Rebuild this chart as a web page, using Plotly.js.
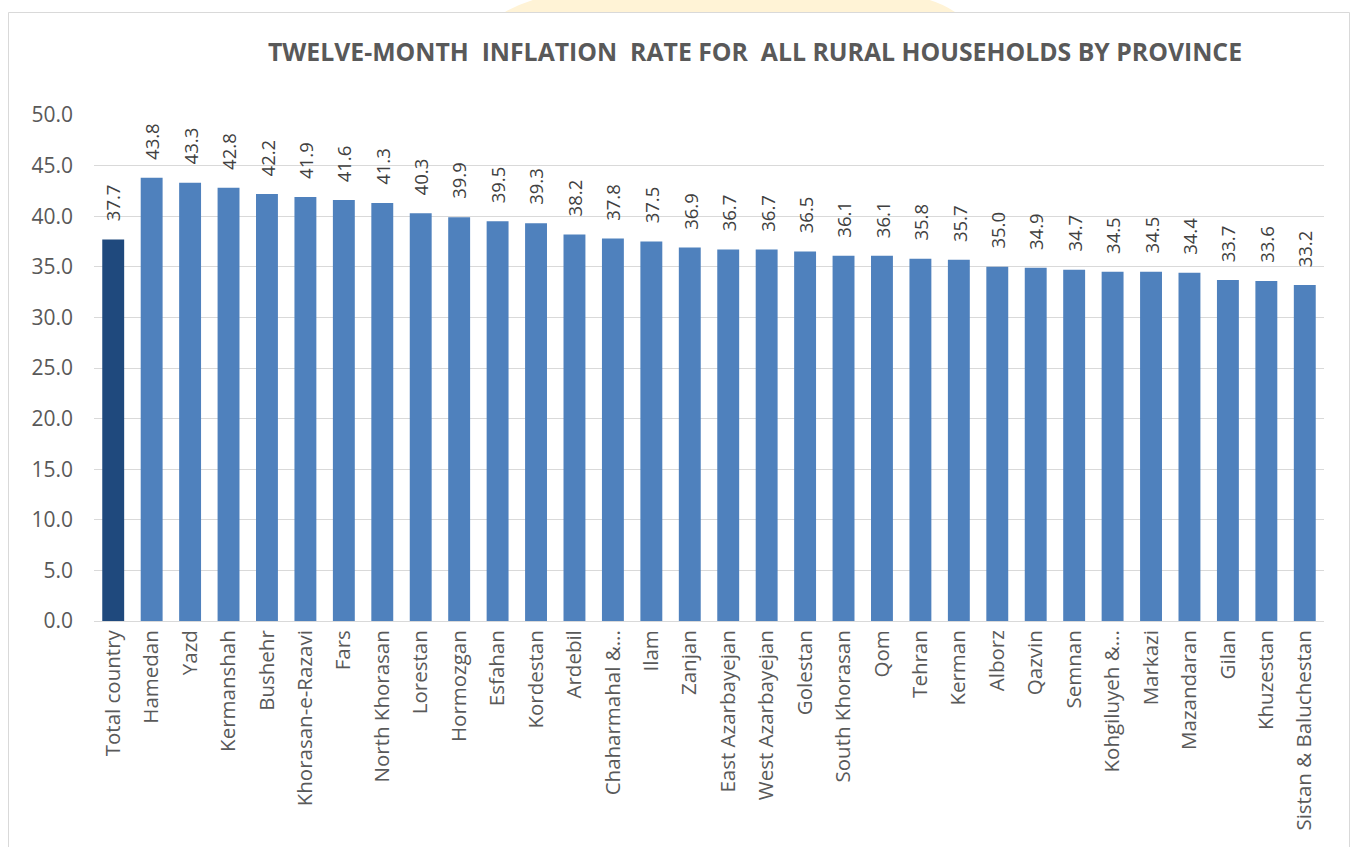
<!DOCTYPE html>
<html><head><meta charset="utf-8">
<script src="https://cdn.plot.ly/plotly-3.0.1.min.js"></script>
<style>
html,body{margin:0;padding:0;background:#fff;overflow:hidden;}
#chart{width:1356px;height:847px;}
</style></head>
<body>
<div id="chart"></div>
<script>
const provinces = ["Total country","Hamedan","Yazd","Kermanshah","Bushehr","Khorasan-e-Razavi","Fars","North Khorasan","Lorestan","Hormozgan","Esfahan","Kordestan","Ardebil","Chaharmahal &...","Ilam","Zanjan","East Azarbayejan","West Azarbayejan","Golestan","South Khorasan","Qom","Tehran","Kerman","Alborz","Qazvin","Semnan","Kohgiluyeh &...","Markazi","Mazandaran","Gilan","Khuzestan","Sistan & Baluchestan"];
const inflation = [37.7,43.8,43.3,42.8,42.2,41.9,41.6,41.3,40.3,39.9,39.5,39.3,38.2,37.8,37.5,36.9,36.7,36.7,36.5,36.1,36.1,35.8,35.7,35.0,34.9,34.7,34.5,34.5,34.4,33.7,33.6,33.2];
const yTicks = [0,5,10,15,20,25,30,35,40,45,50];

// pixel geometry helpers (layout only)
const W = 1356, H = 847, L = 94, R = 32, T = 115, B = 226;
const pw = W - L - R, ph = H - T - B;
const px = x => (x - L) / pw;
const py = y => (H - B - y) / ph;

const colors = provinces.map((p,i)=> i===0 ? '#1f497d' : '#4f81bd');
const trace = {
  type:'bar', x:provinces, y:inflation,
  marker:{color:colors, line:{width:0}},
  hoverinfo:'x+y'
};
const labels = provinces.map((p,i)=>({
  x:p, y:inflation[i], xref:'x', yref:'y',
  text:inflation[i].toFixed(1), textangle:-90, showarrow:false,
  xanchor:'center', yanchor:'bottom', yshift:16,
  font:{family:'Open Sans, sans-serif', size:18.5, color:'#404040'}
}));
// soft watermark blob above the frame (decorative)
const blob = `M ${px(505)} ${py(12)} Q ${px(530)} ${py(-2)} ${px(560)} ${py(-6)} L ${px(900)} ${py(-6)} Q ${px(935)} ${py(-2)} ${px(955)} ${py(12)} Z`;
const layout = {
  width:W, height:H,
  margin:{l:L,r:R,t:T,b:B},
  paper_bgcolor:'#fff', plot_bgcolor:'rgba(0,0,0,0)',
  bargap:0.43,
  showlegend:false,
  title:{text:'<b>TWELVE-MONTH  INFLATION  RATE FOR  ALL RURAL HOUSEHOLDS BY PROVINCE</b>',
    font:{family:'Open Sans, sans-serif', size:24.8, color:'#595959'},
    x:px(755), xref:'paper', xanchor:'center', y:1-52/H, yanchor:'middle'},
  xaxis:{type:'category', tickangle:-90, automargin:false,
    tickfont:{family:'Open Sans, sans-serif', size:20.5, color:'#595959'},
    showline:true, linecolor:'#d9d9d9', linewidth:1, ticks:'', showgrid:false},
  yaxis:{range:[0,50], tickvals:yTicks, ticktext:yTicks.map(v=>v.toFixed(1)),
    tickfont:{family:'Open Sans, sans-serif', size:21, color:'#595959'},
    showgrid:true, gridcolor:'#d9d9d9', gridwidth:1, zeroline:false,
    showline:false, ticks:'', ticklen:0, ticklabelstandoff:20, automargin:false},
  annotations:labels,
  shapes:[
    {type:'path', xref:'paper', yref:'paper', layer:'below', path:blob,
      fillcolor:'#fff3d6', line:{width:0}},
    {type:'rect', xref:'paper', yref:'paper', layer:'below',
      x0:px(8.5), x1:px(1349.5), y0:py(900), y1:py(12.5),
      fillcolor:'#ffffff', line:{color:'#d9d9d9', width:1}}
  ]
};
Plotly.newPlot('chart',[trace],layout,{displayModeBar:false});
</script>
</body></html>
